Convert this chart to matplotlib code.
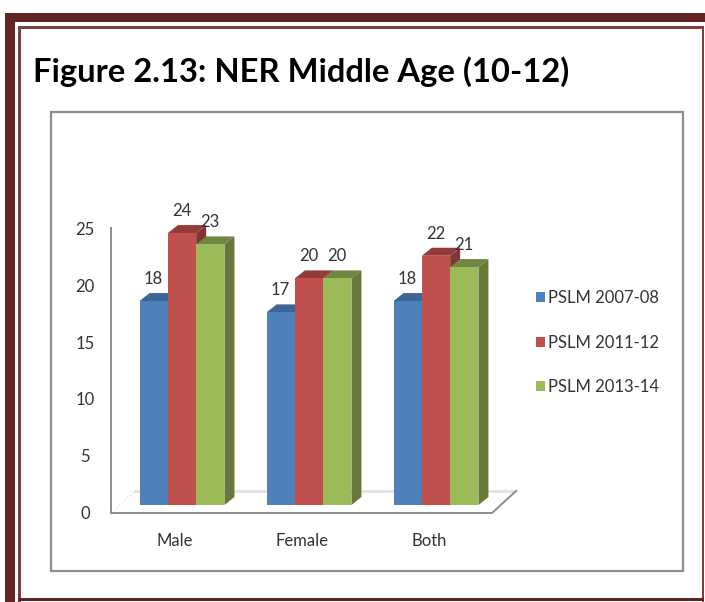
import numpy as np
import matplotlib
matplotlib.use('Agg')
import matplotlib.pyplot as plt
from matplotlib.patches import Rectangle, Patch, Polygon

categories = ['Male', 'Female', 'Both']
series_names = ['PSLM 2007-08', 'PSLM 2011-12', 'PSLM 2013-14']
pslm_0708 = [18, 17, 18]
pslm_1112 = [24, 20, 22]
pslm_1314 = [23, 20, 21]
y_ticks = [0, 5, 10, 15, 20, 25]

W, H = 705, 602
front = ['#4F81BD', '#C0504D', '#9BBB59']
top = ['#3D6595', '#943B39', '#6F8740']
side = ['#38597F', '#7F3634', '#66783A']
dark = '#622423'
inner = '#7F3F3E'
grey = '#8C8C8C'
txt = '#333333'
fs = 12

plt.rcParams['font.family'] = ['Lato', 'DejaVu Sans']
fig = plt.figure(figsize=(W / 100, H / 100), dpi=100)


def box(x0, y0, x1, y1, **kw):
    # rectangle given in image pixels
    fig.add_artist(Rectangle((x0 / W, 1 - y1 / H), (x1 - x0) / W, (y1 - y0) / H,
                             transform=fig.transFigure, **kw))


# page border
box(5, 13, 705, 22, fc=dark, ec='none')
box(5, 13, 15, 602, fc=dark, ec='none')
box(18, 26, 702, 28.5, fc=inner, ec='none')
box(18, 26, 20.5, 602, fc=inner, ec='none')
box(702, 26, 704, 602, fc=inner, ec='none')
box(18, 598, 704, 601, fc=dark, ec='none')

fig.text(33 / W, 1 - 72 / H, 'Figure 2.13: NER Middle Age (10-12)', fontsize=23.6,
         fontweight='bold', color='black', va='center', ha='left')

# chart frame
box(51, 112, 683, 571, fc='white', ec=grey, lw=1.6)

# plot axes: 1 category = 127 px, 1 unit = 11.33 px, zero sits at y=505
px_x = 127.0
px_y = 11.33
ax = fig.add_axes([111 / W, 1 - 505 / H, 382 / W, 283 / H], zorder=5)
ax.set_xlim((111 - 182) / px_x, (493 - 182) / px_x)
ax.set_ylim(0, 283 / px_y)
ax.axis('off')

dx = 10 / px_x
dy = 8 / px_y
wid = 28.3 / px_x
x = np.arange(len(categories))

# floor and wall
ax.plot([x[0] - 71 / px_x, x[0] - 47 / px_x], [-8 / px_y, 14 / px_y], color='#E4E4E4', lw=1, ls=':', clip_on=False)
ax.plot([x[0] - 47 / px_x, x[2] + 80 / px_x], [14 / px_y, 14 / px_y], color='#E2E2E2', lw=2, clip_on=False)
ax.plot([x[0] - 71 / px_x, x[2] + 56 / px_x, x[2] + 80 / px_x], [-8 / px_y, -8 / px_y, 14 / px_y],
        color=grey, lw=1.4, clip_on=False)
ax.plot([x[0] - 71 / px_x, x[0] - 71 / px_x], [-8 / px_y, 277 / px_y], color=grey, lw=1.4, clip_on=False)

for v in y_ticks:
    ax.annotate(str(v), (x[0] - 71 / px_x, v * 284 / 25 / px_y), xytext=(-26 * 0.72, -9 * 0.72),
                textcoords='offset points', ha='center', va='center', fontsize=fs, color=txt,
                annotation_clip=False)

for c, name in zip(x, categories):
    ax.annotate(name, (c, 0), xytext=(-7 * 0.72, -36 * 0.72), textcoords='offset points',
                ha='center', va='center', fontsize=fs, color=txt, annotation_clip=False)

series = [pslm_0708, pslm_1112, pslm_1314]
for i, vals in enumerate(series):
    xs = x + (i - 1) * wid
    for xc, v in zip(xs, vals):
        l, r = xc - wid / 2, xc + wid / 2
        ax.add_patch(Polygon([[r, 0], [r + dx, dy], [r + dx, v + dy], [r, v]], fc=side[i], ec='none',
                             zorder=2 + i, clip_on=False))
        ax.add_patch(Polygon([[l, v], [r, v], [r + dx, v + dy], [l + dx, v + dy]], fc=top[i], ec='none',
                             zorder=2 + i, clip_on=False))
    ax.bar(xs, vals, wid, color=front[i], zorder=2 + i, clip_on=False)
    for xc, v in zip(xs, vals):
        ax.annotate(str(v), (xc, v), xytext=(0, 22 * 0.72), textcoords='offset points', ha='center',
                    va='center', fontsize=fs, color=txt, zorder=10, annotation_clip=False)

handles = [Patch(fc=front[i], ec='none', label=series_names[i]) for i in range(3)]
leg = fig.legend(handles=handles, loc='center left', bbox_to_anchor=(521 / W, 1 - 342.5 / H), frameon=False,
                 handlelength=0.55, handleheight=0.55, handletextpad=0.2, labelspacing=1.72,
                 prop={'size': fs}, labelcolor=txt)
leg.set_zorder(6)

fig.savefig('out.png', dpi=100)
